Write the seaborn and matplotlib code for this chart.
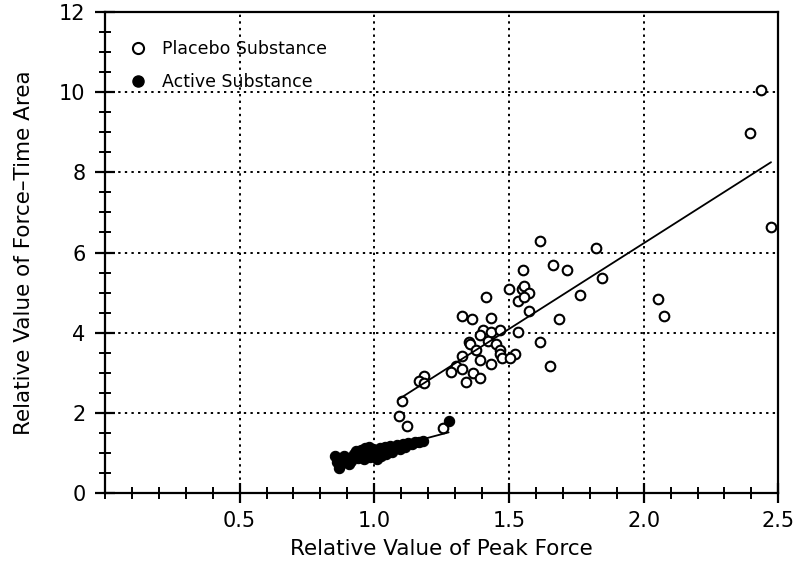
import numpy as np
import pandas as pd
import matplotlib.pyplot as plt
import seaborn as sns
from matplotlib.ticker import MultipleLocator, FixedLocator
from matplotlib.lines import Line2D

# Values
placebo_peak = [2.436, 2.395, 2.473, 2.054, 2.075, 1.616, 1.825, 1.665, 1.715, 1.844,
                1.763, 1.684, 1.616, 1.653, 1.575, 1.553, 1.502, 1.547, 1.554, 1.575,
                1.533, 1.554, 1.414, 1.324, 1.364, 1.435, 1.404, 1.434, 1.465, 1.393,
                1.533, 1.423, 1.452, 1.351, 1.354, 1.376, 1.465, 1.468, 1.523, 1.476,
                1.504, 1.324, 1.393, 1.434, 1.305, 1.324, 1.283, 1.366, 1.342, 1.393,
                1.184, 1.166, 1.184, 1.103, 1.091, 1.123, 1.254]
placebo_area = [10.05, 8.98, 6.64, 4.83, 4.41, 6.29, 6.12, 5.69, 5.57, 5.37,
                4.94, 4.33, 3.77, 3.18, 4.53, 5.57, 5.10, 5.08, 5.16, 4.99,
                4.79, 4.90, 4.90, 4.41, 4.33, 4.36, 4.08, 4.01, 4.06, 3.94,
                4.01, 3.80, 3.72, 3.76, 3.72, 3.58, 3.57, 3.47, 3.48, 3.36,
                3.36, 3.41, 3.32, 3.23, 3.17, 3.10, 3.02, 3.00, 2.78, 2.87,
                2.92, 2.79, 2.75, 2.29, 1.92, 1.68, 1.62]

active_peak = [0.855, 0.862, 0.868, 0.874, 0.880, 0.888, 0.905, 0.912, 0.918, 0.925,
               0.932, 0.938, 0.945, 0.950, 0.955, 0.960, 0.965, 0.970, 0.975, 0.980,
               0.985, 0.990, 0.995, 1.000, 1.005, 1.010, 1.015, 1.020, 1.025, 1.030,
               1.040, 1.045, 1.050, 1.060, 1.065, 1.075, 1.085, 1.095, 1.105, 1.115,
               1.125, 1.140, 1.150, 1.165, 1.180, 1.276]
active_area = [0.92, 0.78, 0.62, 0.70, 0.88, 0.93, 0.72, 0.80, 0.90, 0.98,
               1.05, 0.88, 0.95, 1.08, 1.00, 0.86, 1.12, 0.95, 1.05, 1.15,
               0.90, 1.02, 1.10, 0.95, 1.06, 0.84, 1.00, 1.12, 0.92, 1.05,
               1.15, 0.98, 1.08, 1.18, 1.02, 1.12, 1.20, 1.10, 1.22, 1.16,
               1.25, 1.22, 1.28, 1.27, 1.30, 1.80]

x_ticks = [0.5, 1.0, 1.5, 2.0, 2.5]
x_tick_labels = ['0.5', '1.0', '1.5', '2.0', '2.5']
y_ticks = [0, 2, 4, 6, 8, 10, 12]

sns.set_style('ticks')
plt.rcParams['font.family'] = ['DejaVu Sans']
plt.rcParams['text.color'] = 'black'
plt.rcParams['axes.labelcolor'] = 'black'
plt.rcParams['xtick.color'] = 'black'
plt.rcParams['ytick.color'] = 'black'

fig = plt.figure(figsize=(7.95, 5.72), dpi=100)
ax = fig.add_axes([0.132, 0.138, 0.847, 0.841])

# Placebo: open circles + fit line
sns.regplot(x=placebo_peak, y=placebo_area, ax=ax, ci=None, truncate=True,
            scatter_kws=dict(s=48, facecolors='white', edgecolors='black', linewidths=1.5, alpha=1, zorder=3),
            line_kws=dict(color='black', lw=1.3, zorder=4))
# Active: filled circles + fit line
sns.regplot(x=active_peak, y=active_area, ax=ax, ci=None, truncate=True,
            scatter_kws=dict(s=55, color='black', linewidths=0.8, alpha=1, zorder=3),
            line_kws=dict(color='black', lw=1.3, zorder=4))

ax.set_xlim(0, 2.5)
ax.set_ylim(0, 12)
ax.xaxis.set_major_locator(FixedLocator(x_ticks))
ax.set_xticklabels(x_tick_labels)
ax.xaxis.set_minor_locator(MultipleLocator(0.1))
ax.yaxis.set_major_locator(FixedLocator(y_ticks))
ax.yaxis.set_minor_locator(MultipleLocator(0.5))

ax.tick_params(which='major', direction='inout', length=14, width=1.6, labelsize=15, pad=7)
ax.tick_params(which='minor', direction='inout', length=8, width=1.4)
ax.tick_params(axis='x', which='major', pad=6)

ax.grid(True, which='major', linestyle=(0, (1.2, 2.2)), color='black', linewidth=1.4)
for sp in ax.spines.values():
    sp.set_visible(True)
    sp.set_linewidth(1.6)
    sp.set_color('black')

ax.set_xlabel('Relative Value of Peak Force', fontsize=15.5, labelpad=6)
ax.set_ylabel('Relative Value of Force\u2013Time Area', fontsize=15.5, labelpad=18)

handles = [Line2D([], [], marker='o', ls='none', markerfacecolor='white', markeredgecolor='black',
                  markersize=8, markeredgewidth=1.5),
           Line2D([], [], marker='o', ls='none', color='black', markersize=8)]
ax.legend(handles, ['Placebo Substance', 'Active Substance'], loc='upper left', frameon=False,
          fontsize=12.5, handletextpad=0.4, labelspacing=0.9, bbox_to_anchor=(0.0, 0.975))

fig.savefig('out.png', dpi=100)
